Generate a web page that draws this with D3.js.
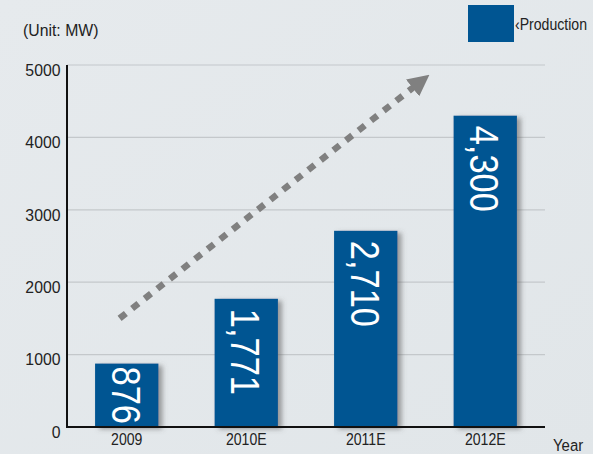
<!DOCTYPE html>
<html>
<head>
<meta charset="utf-8">
<script src="https://cdn.jsdelivr.net/npm/d3@7"></script>
<style>
	body { margin: 0; }
	svg { display: block; font-family: "Liberation Sans", Arial, sans-serif; }
</style>
</head>
<body>
<div id="chart"></div>
<script>
// chart data
var years = ["2009", "2010E", "2011E", "2012E"];
var production = [876, 1771, 2710, 4300];
var valueLabels = ["876", "1,771", "2,710", "4,300"];
var yTicks = [0, 1000, 2000, 3000, 4000, 5000];
// trend arrow, in (bar index, MW)
var trendFrom = [-0.06, 1500];
var trendTo = [2.42, 4720];

var width = 593,
	height = 454;
var margin = { top: 65, right: 48, bottom: 27, left: 67 };
var textColor = "#222";

var svg = d3
	.select("#chart")
	.append("svg")
	.attr("width", width)
	.attr("height", height);

var defs = svg.append("defs");
var grad = defs
	.append("linearGradient")
	.attr("id", "bg")
	.attr("x1", 0)
	.attr("y1", 0)
	.attr("x2", 1)
	.attr("y2", 1);
grad.append("stop").attr("offset", 0).attr("stop-color", "#e6eaed");
grad.append("stop").attr("offset", 1).attr("stop-color", "#e1e6e9");

var shadow = defs
	.append("filter")
	.attr("id", "shadow")
	.attr("x", "-20%")
	.attr("y", "-20%")
	.attr("width", "160%")
	.attr("height", "140%");
shadow
	.append("feDropShadow")
	.attr("dx", 4)
	.attr("dy", 2)
	.attr("stdDeviation", 2.5)
	.attr("flood-color", "#555")
	.attr("flood-opacity", 0.55);

defs
	.append("marker")
	.attr("id", "arrowhead")
	.attr("viewBox", "0 0 10 10")
	.attr("refX", 2)
	.attr("refY", 5)
	.attr("markerWidth", 3.3)
	.attr("markerHeight", 3.3)
	.attr("markerUnits", "strokeWidth")
	.attr("orient", "auto")
	.append("path")
	.attr("d", "M0,0 L10,5 L0,10 Z")
	.attr("fill", "#808080");

svg
	.append("rect")
	.attr("width", width)
	.attr("height", height)
	.attr("fill", "url(#bg)");

var x = d3
	.scaleBand()
	.domain(years)
	.range([margin.left, width - margin.right])
	.paddingInner(0.47)
	.paddingOuter(0.235);

var y = d3
	.scaleLinear()
	.domain([0, 5000])
	.range([height - margin.bottom, margin.top]);

var xIdx = d3
	.scaleLinear()
	.domain([0, years.length - 1])
	.range([
		x(years[0]) + x.bandwidth() / 2,
		x(years[years.length - 1]) + x.bandwidth() / 2,
	]);

// gridlines
svg
	.append("g")
	.selectAll("line")
	.data(yTicks.slice(1))
	.enter()
	.append("line")
	.attr("x1", margin.left)
	.attr("x2", width - margin.right)
	.attr("y1", function (d) {
		return y(d);
	})
	.attr("y2", function (d) {
		return y(d);
	})
	.attr("stroke", "#c4c8cb")
	.attr("stroke-width", 1.2);

// y axis labels
var yAxis = svg
	.append("g")
	.attr("transform", "translate(" + margin.left + ",0)")
	.call(
		d3
			.axisLeft(y)
			.tickValues(yTicks)
			.tickFormat(d3.format("d"))
			.tickSize(0)
			.tickPadding(7)
	);
yAxis.select(".domain").remove();
yAxis
	.selectAll("text")
	.attr("dy", "0.6em")
	.attr("font-size", 17)
	.attr("fill", textColor)
	.attr("transform", "scale(0.93,1)")
	.style("font-family", "Liberation Sans, Arial, sans-serif");

// trend arrow
svg
	.append("line")
	.attr("x1", xIdx(trendFrom[0]))
	.attr("y1", y(trendFrom[1]))
	.attr("x2", xIdx(trendTo[0]))
	.attr("y2", y(trendTo[1]))
	.attr("stroke", "#808080")
	.attr("stroke-width", 6.5)
	.attr("stroke-dasharray", "8,8")
	.attr("marker-end", "url(#arrowhead)");

// bars
svg
	.append("g")
	.selectAll("rect")
	.data(production)
	.enter()
	.append("rect")
	.attr("x", function (d, i) {
		return x(years[i]);
	})
	.attr("y", function (d) {
		return y(d);
	})
	.attr("width", x.bandwidth())
	.attr("height", function (d) {
		return y(0) - y(d);
	})
	.attr("fill", "#005592")
	.attr("filter", "url(#shadow)");

// rotated value labels, squeezed a little along their length
var squeeze = 0.84;
svg
	.append("g")
	.selectAll("text")
	.data(production)
	.enter()
	.append("text")
	.attr("dy", "0.36em")
	.attr("fill", "#fff")
	.attr("font-size", 41)
	.text(function (d, i) {
		return valueLabels[i];
	})
	.attr("transform", function (d, i) {
		var cx = x(years[i]) + x.bandwidth() / 2;
		var len = this.getComputedTextLength() * squeeze;
		var h = y(0) - y(d);
		var off = Math.min(10, (h - len) / 2);
		return (
			"translate(" + cx + "," + (y(d) + off) + ") rotate(90) scale(" + squeeze + ",1)"
		);
	});

// axis lines
svg
	.append("line")
	.attr("x1", margin.left)
	.attr("x2", margin.left)
	.attr("y1", y(5000))
	.attr("y2", y(0))
	.attr("stroke", "#111")
	.attr("stroke-width", 2);
svg
	.append("line")
	.attr("x1", margin.left - 1)
	.attr("x2", width - margin.right)
	.attr("y1", y(0))
	.attr("y2", y(0))
	.attr("stroke", "#111")
	.attr("stroke-width", 2);

// x axis labels
var xAxis = svg
	.append("g")
	.attr("transform", "translate(0," + y(0) + ")")
	.call(d3.axisBottom(x).tickSize(0).tickPadding(7));
xAxis.select(".domain").remove();
xAxis
	.selectAll("text")
	.attr("font-size", 16)
	.attr("fill", textColor)
	.attr("transform", "scale(0.88,1)")
	.style("font-family", "Liberation Sans, Arial, sans-serif");

svg
	.append("text")
	.attr("transform", "translate(553,451) scale(0.88,1)")
	.attr("font-size", 17)
	.attr("fill", textColor)
	.text("Year");

svg
	.append("text")
	.attr("transform", "translate(23,36) scale(0.93,1)")
	.attr("font-size", 17)
	.attr("fill", textColor)
	.text("(Unit: MW)");

// legend
svg
	.append("rect")
	.attr("x", 468)
	.attr("y", 5)
	.attr("width", 46)
	.attr("height", 37)
	.attr("fill", "#005592");
svg
	.append("text")
	.attr("transform", "translate(515,30) scale(0.88,1)")
	.attr("font-size", 16)
	.attr("fill", textColor)
	.text("\u2039Production");
</script>
</body>
</html>
